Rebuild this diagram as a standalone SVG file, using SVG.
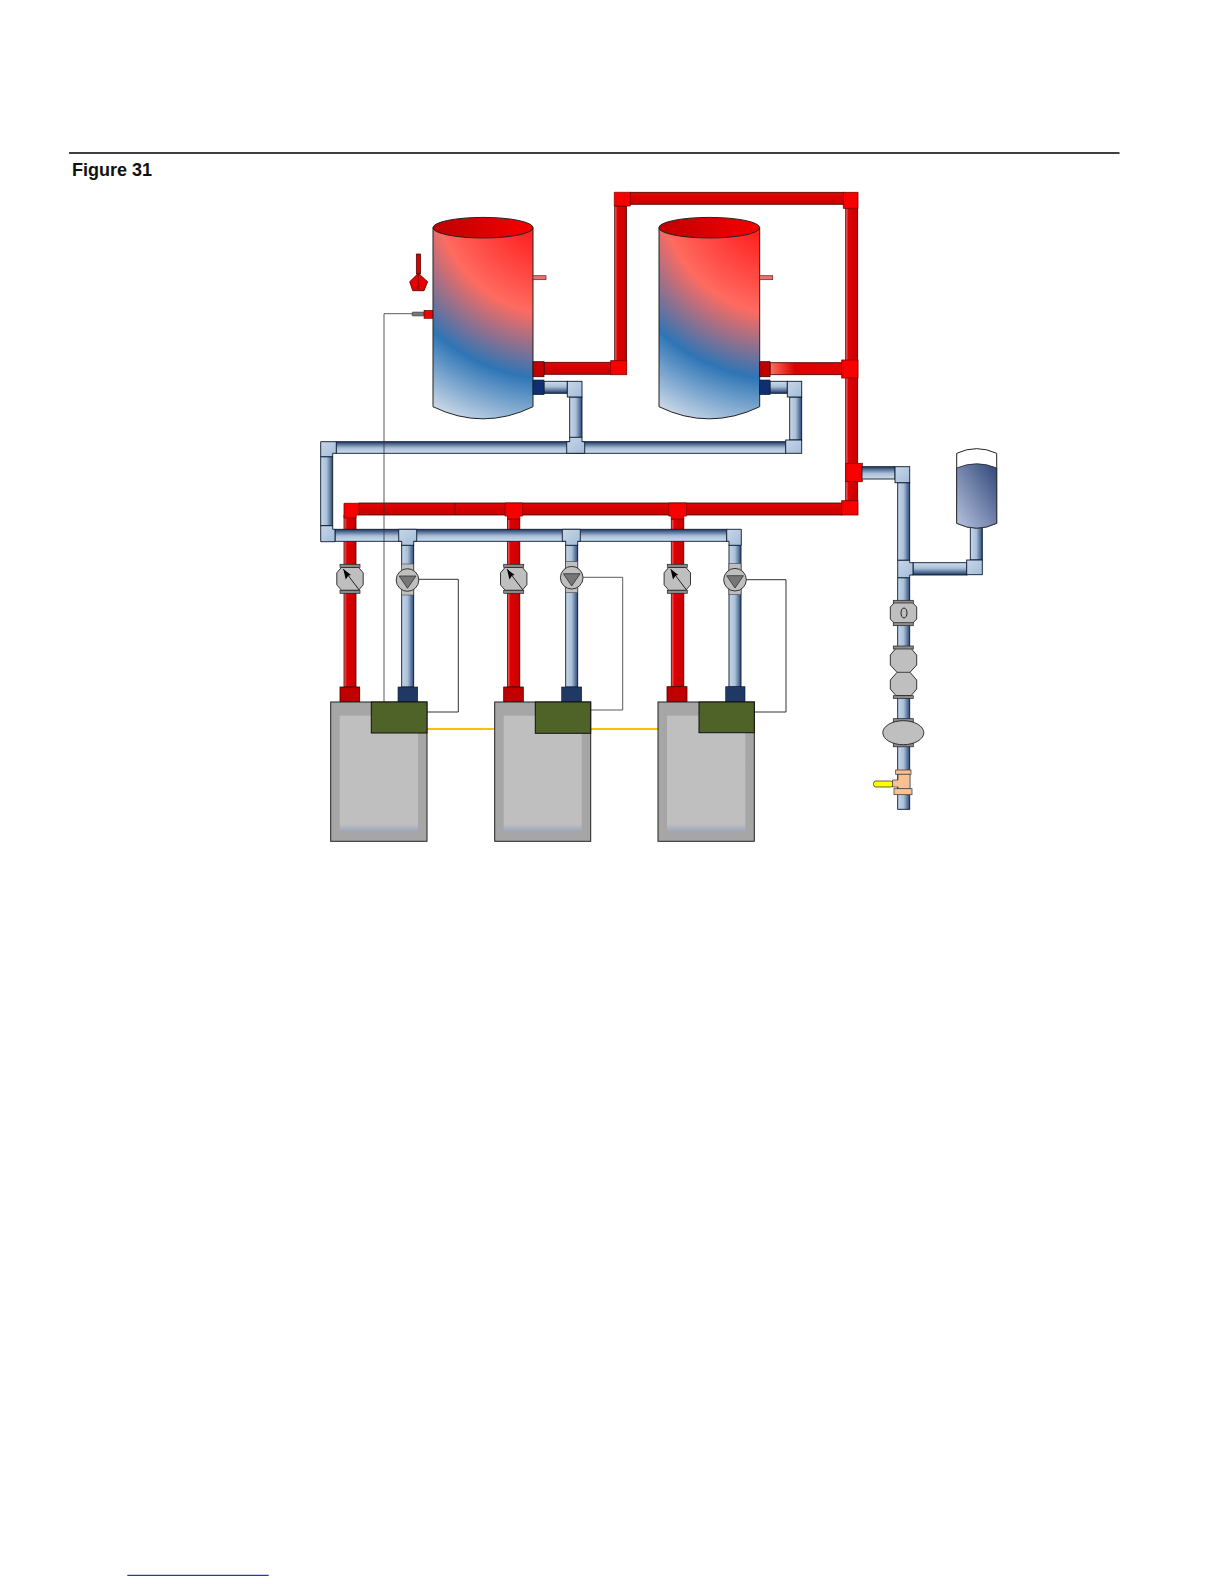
<svg xmlns="http://www.w3.org/2000/svg" xmlns:xlink="http://www.w3.org/1999/xlink" width="1224" height="1584" viewBox="0 0 1224 1584">
<style>
.rv{fill:url(#redV);stroke:#400;stroke-width:.8}
.rh{fill:url(#redH);stroke:#400;stroke-width:.8}
.bv{fill:url(#bluV);stroke:#0a1a30;stroke-width:.9}
.bh{fill:url(#bluH);stroke:#0a1a30;stroke-width:.9}
.bhr{fill:url(#bluHr);stroke:#0a1a30;stroke-width:.9}
.rc{fill:#f60000;stroke:#800;stroke-width:.8}
.bc{fill:url(#bluC);stroke:#0a1a30;stroke-width:.9}
.rf{fill:#c00000;stroke:#400;stroke-width:.8}
.nf{fill:#0f2f70;stroke:#0a1a30;stroke-width:.6}
.df{fill:#1f3864;stroke:#0a1a30;stroke-width:.6}
.wire{fill:none;stroke:#333;stroke-width:1}
.gas{fill:none;stroke:#ffc000;stroke-width:2}
.gr{fill:#bfbfbf;stroke:#222;stroke-width:.9}
.fl{fill:#8c8c8c;stroke:#222;stroke-width:.7}
.pb{fill:#bfbfbf;stroke:#444;stroke-width:.6}
.boil{fill:#a6a6a6;stroke:#222;stroke-width:1}
.green{fill:#4f6228;stroke:#111;stroke-width:1}
.pe{fill:#fac090;stroke:#333;stroke-width:.7}
.tk{stroke:#222;stroke-width:1}
</style>
<defs>
<linearGradient id="redV"><stop offset="0" stop-color="#f07070"/><stop offset=".25" stop-color="#dc0000"/><stop offset="1" stop-color="#c80000"/></linearGradient>
<linearGradient id="redH" x1="0" y1="0" x2="0" y2="1"><stop offset="0" stop-color="#e00808"/><stop offset=".5" stop-color="#d40000"/><stop offset="1" stop-color="#c80000"/></linearGradient>
<linearGradient id="redS"><stop offset="0" stop-color="#ff7060"/><stop offset=".35" stop-color="#d80000"/><stop offset="1" stop-color="#e00000"/></linearGradient>
<linearGradient id="bluV"><stop offset="0" stop-color="#c6d6e8"/><stop offset=".5" stop-color="#a8bfd8"/><stop offset="1" stop-color="#2c4878"/></linearGradient>
<linearGradient id="bluH" x1="0" y1="0" x2="0" y2="1"><stop offset="0" stop-color="#1f3864"/><stop offset=".55" stop-color="#a8bfd8"/><stop offset="1" stop-color="#d0dcec"/></linearGradient>
<linearGradient id="bluHr" x1="0" y1="0" x2="0" y2="1"><stop offset="0" stop-color="#d0dcec"/><stop offset=".45" stop-color="#a8bfd8"/><stop offset="1" stop-color="#1f3864"/></linearGradient>
<linearGradient id="bluC" x1="0" y1="0" x2="1" y2="1"><stop offset="0" stop-color="#c6d6e8"/><stop offset="1" stop-color="#a4bcd8"/></linearGradient>
<radialGradient id="tank1" gradientUnits="userSpaceOnUse" cx="560" cy="190" r="250"><stop offset=".2" stop-color="#ff2020"/><stop offset=".5" stop-color="#ff6b60"/><stop offset=".76" stop-color="#2e75b6"/><stop offset="1" stop-color="#c8d6e6"/></radialGradient>
<radialGradient id="tank2" gradientUnits="userSpaceOnUse" cx="786" cy="190" r="250"><stop offset=".2" stop-color="#ff2020"/><stop offset=".5" stop-color="#ff6b60"/><stop offset=".76" stop-color="#2e75b6"/><stop offset="1" stop-color="#c8d6e6"/></radialGradient>
<linearGradient id="lid"><stop offset="0" stop-color="#c00000"/><stop offset="1" stop-color="#f60000"/></linearGradient>
<linearGradient id="exp" x1="1" y1="0" x2="0" y2="1"><stop offset="0" stop-color="#2f4678"/><stop offset="1" stop-color="#b8c4e0"/></linearGradient>
<linearGradient id="inner" x1="0" y1="0" x2="0" y2="1"><stop offset="0" stop-color="#bfbfbf"/><stop offset=".93" stop-color="#bfbfbf"/><stop offset="1" stop-color="#9aa4b8"/></linearGradient>
<g id="valve">
<path class="gr" d="M-8.500 -11.500H8.500L13.200 -6V6L8.500 11.500H-8.500L-13.200 6V-6Z"/>
<rect class="fl" x="-10" y="-14.500" width="20" height="3"/>
<rect class="fl" x="-10" y="11.500" width="20" height="3"/>
<path d="M-6.700 -9.700L9.300 11.300" fill="none" stroke="#222" stroke-width="1"/>
<path d="M-6.700 -9.700L1 -3.700L-1.600 -3.200L-4.300 .7Z" fill="#000"/>
</g>
<g id="pump">
<rect class="pb" x="-6" y="-16" width="12" height="31"/>
<circle class="gr" r="11.300"/>
<path d="M-8.300 -4H8.400L0 8.300Z" fill="#777" stroke="#222" stroke-width=".7"/>
</g>
</defs>
<rect width="1224" height="1584" fill="#fff"/>

<g id="header">
<line x1="69" y1="153" x2="1119.500" y2="153" stroke="#000" stroke-width="1.600"/>
<text x="72" y="176" font-family="'Liberation Sans',Arial,sans-serif" font-weight="700" font-size="18" fill="#111">Figure 31</text>
<line x1="127.300" y1="1575.300" x2="268.700" y2="1575.300" stroke="#000099" stroke-width="1"/>
</g>

<g id="connectors">
<g id="red-pipes">
<rect class="rh" x="544" y="362.300" width="68" height="12"/>
<rect class="rv" x="614.700" y="206" width="11.800" height="155"/>
<rect class="rh" x="630" y="192.300" width="214" height="12"/>
<rect class="rv" x="845.700" y="208" width="12" height="293"/>
<rect x="770" y="362.700" width="72" height="12" fill="url(#redS)" stroke="#400" stroke-width=".8"/>
<rect class="rh" x="359" y="503" width="483" height="12"/>
<line x1="455" y1="503" x2="455" y2="515" stroke="#500" stroke-width=".7"/>
<rect class="rv" x="344" y="515" width="12" height="172"/>
<rect class="rv" x="507.500" y="519" width="12.300" height="168"/>
<rect class="rv" x="671.300" y="519" width="12.500" height="168"/>
<path class="rc" d="M614.300 192.300H630.300V206H614.300Z"/>
<rect class="rc" x="843.300" y="192.300" width="14.700" height="16"/>
<rect class="rc" x="610.700" y="360.700" width="16" height="14"/>
<rect class="rc" x="841.700" y="360" width="16.300" height="18"/>
<rect class="rc" x="845.700" y="463.300" width="16.600" height="18.400"/>
<rect class="rc" x="841.700" y="500.700" width="16.300" height="14.300"/>
<path class="rc" d="M344 503.300H359V515H356V518H344Z"/>
<path class="rc" d="M505 503H522.700V516H519.800V519H507.500V516H505Z"/>
<path class="rc" d="M668.700 503H686.700V516H683.800V519H671.300V516H668.700Z"/>
</g>
<g id="blue-pipes">
<rect class="bhr" x="544" y="381.300" width="23.300" height="12"/>
<rect class="bv" x="569.700" y="397" width="12.300" height="40.500"/>
<rect class="bhr" x="770" y="381.300" width="17.300" height="12"/>
<rect class="bv" x="789.700" y="397" width="12" height="43"/>
<rect class="bh" x="336" y="441.700" width="450" height="11.600"/>
<rect class="bv" x="320.700" y="456.700" width="12" height="69"/>
<rect class="bh" x="335" y="529.300" width="392" height="12"/>
<rect class="bv" x="401.700" y="545" width="12" height="142"/>
<rect class="bv" x="565.700" y="545" width="12" height="142"/>
<rect class="bv" x="729" y="545" width="12" height="142"/>
<rect class="bh" x="862" y="466.700" width="33" height="12.300"/>
<rect class="bv" x="897.700" y="482.700" width="12" height="77.600"/>
<rect class="bhr" x="913" y="562.700" width="54" height="12.300"/>
<rect class="bv" x="970.300" y="527" width="12" height="33"/>
<rect class="bv" x="897.700" y="577.700" width="12" height="231.600"/>
<rect class="bc" x="567.300" y="381.300" width="14.700" height="15.700"/>
<rect class="bc" x="787.300" y="381.300" width="14.400" height="15.700"/>
<rect class="bc" x="785.700" y="440" width="16" height="13.300"/>
<path class="bc" d="M569.700 437.300H582V441.700H584.700V453.300H566.700V441.700H569.700Z"/>
<path class="bc" d="M320.700 441.700H336.300V453.300H332.700V456.700H320.700Z"/>
<path class="bc" d="M320.700 525.700H332.700V529.300H335V541.700H320.700Z"/>
<path class="bc" d="M398.700 529.300H416.700V541.300H413.700V545.300H401.700V541.300H398.700Z"/>
<path class="bc" d="M562.300 529.300H580.300V541.300H577.700V545.300H565.700V541.300H562.300Z"/>
<path class="bc" d="M726.700 529.300H741.300V545.300H729V541.300H726.700Z"/>
<rect class="bc" x="895" y="466.700" width="14.700" height="16"/>
<path class="bc" d="M897.700 560.300H909.700V562.700H913V575H909.700V577.700H897.700Z"/>
<rect class="bc" x="966.700" y="560" width="15.600" height="14.700"/>
</g>
<g id="wires">
<path class="wire" stroke-opacity=".8" d="M412 313.700H384V702"/>
<path class="wire" d="M419 579.300H458.300V712H427.300"/>
<path class="wire" d="M583 577.300H622.700V710H590.700" stroke-opacity=".8"/>
<path class="wire" d="M746 579.700H786V712H754.300"/>
<path class="gas" d="M427 729H494.700M590.700 729H658"/>
</g>
</g>

<g id="tank-1">
<path class="tk" fill="url(#tank1)" d="M433 227.700V406.700Q483 431 533 406.700V227.700Z"/>
<ellipse class="tk" fill="url(#lid)" cx="483" cy="227.700" rx="50" ry="10.300"/>
<rect x="533" y="275.700" width="13" height="4" fill="#e87070" stroke="#622" stroke-width=".7"/>
<rect class="rf" x="533" y="361.700" width="11" height="15"/>
<rect class="nf" x="533" y="380" width="11" height="14.700"/>
</g>
<g id="tank-2">
<path class="tk" fill="url(#tank2)" d="M659 227.700V406.700Q709 431 759.700 406.700V227.700Z"/>
<ellipse class="tk" fill="url(#lid)" cx="709.300" cy="227.700" rx="50.400" ry="10.300"/>
<rect x="759.700" y="275.700" width="13" height="4" fill="#e87070" stroke="#622" stroke-width=".7"/>
<rect class="rf" x="759.700" y="361.700" width="10.300" height="15"/>
<rect class="nf" x="759.700" y="380" width="10.300" height="14.700"/>
</g>
<g id="thermometer">
<rect x="416.300" y="254" width="4.300" height="20" fill="#d80000" stroke="#400" stroke-width=".7"/>
<path d="M418.300 273.300L427.700 281.700L424 290.700H412.700L409.700 281.700Z" fill="#e80000" stroke="#400" stroke-width=".8"/>
<line x1="418.300" y1="274" x2="418.300" y2="287" stroke="#400" stroke-width=".6"/>
<circle cx="418.300" cy="287.500" r="1.200" fill="none" stroke="#400" stroke-width=".6"/>
</g>
<g id="sensor">
<rect x="412" y="312" width="12" height="4" rx="1" fill="#777" stroke="#333" stroke-width=".5"/>
<rect x="424" y="310.300" width="8.700" height="8" fill="#f00000" stroke="#500" stroke-width=".6"/>
</g>

<g id="boiler-1">
<rect class="rf" x="340" y="687" width="19.700" height="15"/>
<rect class="df" x="398" y="687" width="19.700" height="15"/>
<rect class="boil" x="330.700" y="702" width="96.300" height="139.300"/>
<rect x="339.700" y="715.700" width="78.300" height="116.600" fill="url(#inner)"/>
<rect class="green" x="371.300" y="702" width="55.700" height="31"/>
</g>
<g id="boiler-2">
<rect class="rf" x="503.700" y="687" width="19.600" height="15"/>
<rect class="df" x="561.700" y="687" width="20" height="15"/>
<rect class="boil" x="494.700" y="702" width="96" height="139.300"/>
<rect x="503.700" y="715.700" width="78" height="116.600" fill="url(#inner)"/>
<rect class="green" x="535.300" y="702" width="55.400" height="31.300"/>
</g>
<g id="boiler-3">
<rect class="rf" x="667" y="686.700" width="20" height="15.300"/>
<rect class="df" x="725.700" y="686.700" width="19.300" height="15.300"/>
<rect class="boil" x="658" y="702" width="96.300" height="139.300"/>
<rect x="667" y="715.700" width="78.300" height="116.600" fill="url(#inner)"/>
<rect class="green" x="699" y="702" width="55.300" height="30.700"/>
</g>

<use id="valve-1" xlink:href="#valve" href="#valve" x="350" y="578.800"/>
<use id="valve-2" xlink:href="#valve" href="#valve" x="513.700" y="578.800"/>
<use id="valve-3" xlink:href="#valve" href="#valve" x="677.300" y="578.800"/>
<use id="pump-1" xlink:href="#pump" href="#pump" x="407.500" y="580"/>
<use id="pump-2" xlink:href="#pump" href="#pump" x="571.700" y="577.700"/>
<use id="pump-3" xlink:href="#pump" href="#pump" x="735" y="579.700"/>

<g id="expansion-tank">
<path class="tk" fill="#fff" d="M956.700 453.300Q976.700 444 996.700 453.300V523.300Q976.700 533 956.700 523.300Z" stroke-width=".8"/>
<path d="M956.700 468Q976.700 459.500 996.700 468V523.300Q976.700 533 956.700 523.300Z" fill="url(#exp)" stroke="#222" stroke-width=".8"/>
</g>
<g id="fill-valve">
<path class="gr" d="M895 602H912L916.700 607V619L912 624H895L890.300 619V607Z"/>
<rect class="fl" x="893.300" y="600.300" width="20" height="2.700"/>
<rect class="fl" x="893.300" y="622.700" width="20" height="3"/>
<ellipse cx="904" cy="613" rx="3" ry="5" fill="none" stroke="#222" stroke-width="1"/>
</g>
<g id="backflow">
<path class="gr" d="M896 648.300H911L916.700 655V665L910 672.300L916.700 680V689L911 695.700H896L890.300 689V680L897 672.300L890.300 665V655Z"/>
<line x1="897" y1="672.300" x2="910" y2="672.300" stroke="#222" stroke-width=".8"/>
<rect class="fl" x="893.300" y="646" width="20" height="3"/>
<rect class="fl" x="893.300" y="695.700" width="20" height="2.700"/>
</g>
<g id="meter">
<rect class="fl" x="893.300" y="718.700" width="20" height="3.300"/>
<rect class="fl" x="893.300" y="743.300" width="20" height="3.500"/>
<ellipse class="gr" cx="903.300" cy="732.700" rx="20.500" ry="12"/>
</g>
<g id="drain-cock">
<rect x="873.500" y="781" width="19.500" height="6" rx="2.500" fill="#ffff00" stroke="#222" stroke-width=".7"/>
<rect class="pe" x="895.700" y="770" width="15.300" height="4.300"/>
<path class="pe" d="M898 774.300H910V789H898V787H892.500V780H898Z"/>
<rect class="pe" x="894" y="788.700" width="18" height="6"/>
</g>
</svg>
